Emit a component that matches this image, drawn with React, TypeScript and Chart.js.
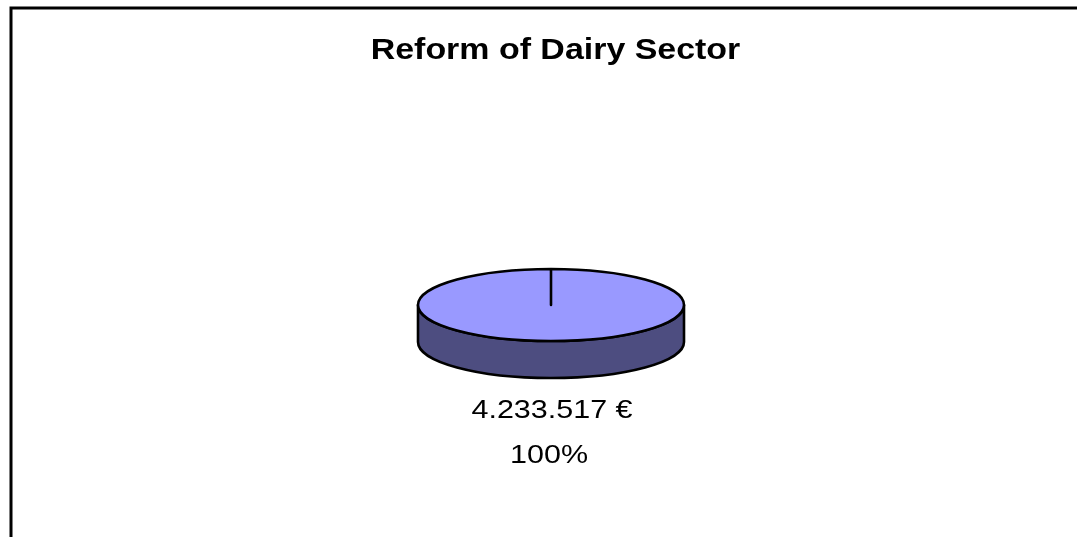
import React, { useEffect, useRef } from "react";
import { Chart, registerables } from "chart.js";

Chart.register(...registerables);

const TITLE = "Reform of Dairy Sector";
const CATEGORIES = ["Reform of Dairy Sector"];
const VALUES = [4233517];
const CURRENCY = "€";

const TOP_COLOR = "#9999FF";
const SIDE_COLOR = "#4D4D80";
const TILT = 36 / 133;
const DEPTH = 37;
const FONT = '"Liberation Sans", Arial, sans-serif';

function formatValue(v: number): string {
  return String(v).replace(/\B(?=(\d{3})+(?!\d))/g, ".") + " " + CURRENCY;
}

function frontRanges(s: number, e: number): [number, number][] {
  const out: [number, number][] = [];
  for (const off of [-2 * Math.PI, 0, 2 * Math.PI]) {
    const a = Math.max(s, off);
    const b = Math.min(e, off + Math.PI);
    if (b > a) out.push([a, b]);
  }
  return out;
}

const pie3d = {
  id: "pie3d",
  beforeDraw(chart: any) {
    const ctx = chart.ctx;
    ctx.save();
    ctx.fillStyle = "#ffffff";
    ctx.fillRect(0, 0, chart.width, chart.height);
    ctx.strokeStyle = "#000";
    ctx.lineWidth = 3;
    ctx.beginPath();
    ctx.moveTo(11, chart.height + 10);
    ctx.lineTo(11, 8);
    ctx.lineTo(chart.width + 10, 8);
    ctx.stroke();
    ctx.font = "bold 29px " + FONT;
    ctx.textAlign = "center";
    ctx.textBaseline = "alphabetic";
    ctx.fillStyle = "#000";
    ctx.translate(555.5, 59);
    ctx.scale(1.17, 1);
    ctx.fillText(TITLE, 0, 0);
    ctx.restore();
  },
  beforeDatasetsDraw(chart: any) {
    const ctx = chart.ctx;
    const meta = chart.getDatasetMeta(0);
    const ds = chart.data.datasets[0];
    const total = (ds.data as number[]).reduce((a, b) => a + b, 0);
    ctx.save();
    ctx.lineJoin = "round";
    ctx.lineWidth = 2.6;
    ctx.strokeStyle = "#000";
    meta.data.forEach((arc: any) => {
      const { x, y, startAngle, endAngle, outerRadius } = arc.getProps(
        ["x", "y", "startAngle", "endAngle", "outerRadius"],
        true
      );
      const rx = outerRadius;
      const ry = outerRadius * TILT;
      for (const [s, e] of frontRanges(startAngle, endAngle)) {
        ctx.beginPath();
        ctx.ellipse(x, y, rx, ry, 0, s, e, false);
        ctx.ellipse(x, y + DEPTH, rx, ry, 0, e, s, true);
        ctx.closePath();
        ctx.fillStyle = SIDE_COLOR;
        ctx.fill();
        ctx.stroke();
      }
    });
    meta.data.forEach((arc: any) => {
      const { x, y, startAngle, endAngle, outerRadius } = arc.getProps(
        ["x", "y", "startAngle", "endAngle", "outerRadius"],
        true
      );
      const rx = outerRadius;
      const ry = outerRadius * TILT;
      ctx.beginPath();
      ctx.moveTo(x, y);
      ctx.ellipse(x, y, rx, ry, 0, startAngle, endAngle, false);
      ctx.closePath();
      ctx.fillStyle = arc.options.backgroundColor;
      ctx.fill();
      ctx.stroke();
    });
    meta.data.forEach((arc: any, i: number) => {
      const { x, y } = arc.getProps(["x", "y"], true);
      const v = (ds.data as number[])[i];
      const pct = Math.round((v / total) * 100) + "%";
      ctx.font = "25px " + FONT;
      ctx.textAlign = "center";
      ctx.textBaseline = "alphabetic";
      ctx.fillStyle = "#000";
      ctx.save();
      ctx.translate(x + 1, y + 113);
      ctx.scale(1.22, 1);
      ctx.fillText(formatValue(v), 0, 0);
      ctx.restore();
      ctx.save();
      ctx.translate(x - 2, y + 158);
      ctx.scale(1.22, 1);
      ctx.fillText(pct, 0, 0);
      ctx.restore();
    });
    ctx.restore();
    return false;
  },
};

export default function App() {
  const ref = useRef<HTMLCanvasElement | null>(null);
  useEffect(() => {
    if (!ref.current) return;
    const chart = new Chart(ref.current, {
      type: "pie",
      data: {
        labels: CATEGORIES,
        datasets: [
          {
            data: VALUES,
            backgroundColor: TOP_COLOR,
            borderColor: "#000",
            borderWidth: 2,
          },
        ],
      },
      options: {
        responsive: false,
        animation: false,
        layout: { padding: { left: 417, right: 392, top: 171, bottom: 98 } },
        plugins: {
          legend: { display: false },
          title: { display: false },
          tooltip: { enabled: false },
        },
      },
      plugins: [pie3d as any],
    });
    return () => chart.destroy();
  }, []);
  return (
    <div style={{ position: "fixed", left: 0, top: 0, width: 1077, height: 537, background: "#fff" }}>
      <canvas ref={ref} width={1077} height={537} style={{ display: "block" }} />
    </div>
  );
}
